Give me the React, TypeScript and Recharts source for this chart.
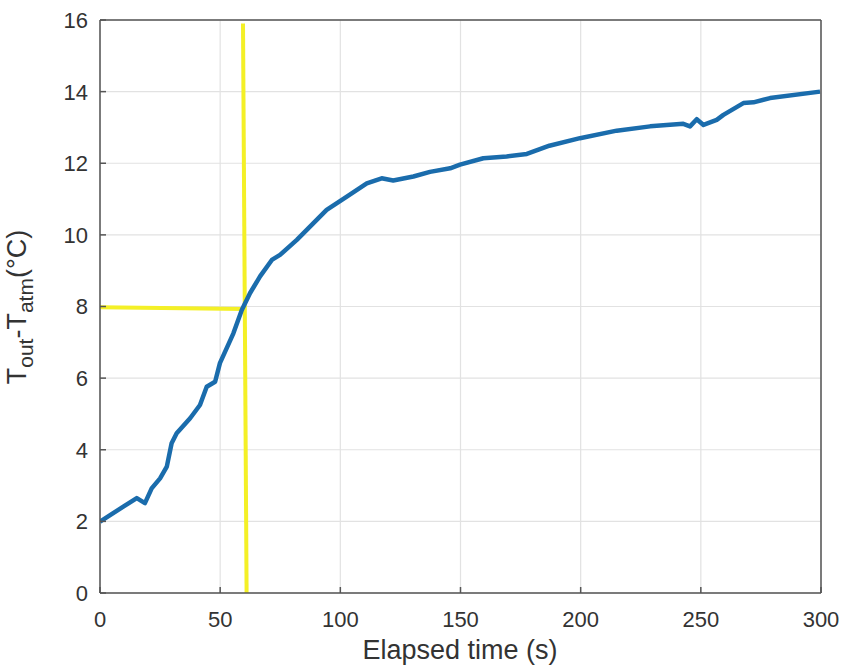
import React from "react"
import { LineChart, Line, XAxis, YAxis, CartesianGrid } from "recharts"

// elapsed time (s) and temperature rise (°C)
const elapsed = [
  0, 5.5, 9.7, 15.3, 18.7, 21.5, 25, 27.8, 29.8, 31.9, 37.5, 41.6, 44.4, 47.9, 49.9, 55.5, 59, 62.4, 66.6,
  71.5, 74.9, 81.9, 94.3, 102.7, 111, 117.2, 122, 130.4, 137.3, 145.7, 149.8, 159.5, 169.2, 177.6, 187,
  199.7, 215, 228.9, 242.7, 245.5, 248.3, 251.1, 256.6, 259.4, 267.7, 271.9, 278.8, 299.6,
]
const deltaT = [
  1.99, 2.23, 2.41, 2.65, 2.51, 2.92, 3.2, 3.53, 4.18, 4.46, 4.88, 5.25, 5.76, 5.9, 6.42, 7.25, 7.9, 8.37, 8.84,
  9.3, 9.44, 9.86, 10.7, 11.07, 11.44, 11.58, 11.52, 11.63, 11.76, 11.86, 11.96, 12.14, 12.19, 12.26, 12.49,
  12.7, 12.91, 13.03, 13.1, 13.03, 13.23, 13.07, 13.21, 13.35, 13.68, 13.7, 13.82, 14.0,
]

// yellow guide lines at the 8 °C crossing
const guideVt = [59.5, 61]
const guideVv = [15.9, 0]
const guideHt = [0, 60]
const guideHv = [7.98, 7.93]

const xTicks = [0, 50, 100, 150, 200, 250, 300]
const yTicks = [0, 2, 4, 6, 8, 10, 12, 14, 16]

const W = 842
const H = 671
const axisColor = "#555"
const textColor = "#333"
const font = "'Liberation Sans', Arial, sans-serif"

const series = elapsed.map((t, i) => ({ t, v: deltaT[i] }))
const guideV = guideVt.map((t, i) => ({ t, v: guideVv[i] }))
const guideH = guideHt.map((t, i) => ({ t, v: guideHv[i] }))

const BottomTick = ({ x, y, payload }: any) => (
  <g>
    <line x1={x} x2={x} y1={y} y2={y - 6} stroke={axisColor} strokeWidth={1.5} />
    <text x={x} y={y + 34} textAnchor="middle" fill={textColor} fontSize={22} fontFamily={font}>
      {payload.value}
    </text>
  </g>
)

const TopTick = ({ x, y }: any) => <line x1={x} x2={x} y1={y} y2={y + 6} stroke={axisColor} strokeWidth={1.5} />

const LeftTick = ({ x, y, payload }: any) => (
  <g>
    <line x1={x} x2={x + 6} y1={y} y2={y} stroke={axisColor} strokeWidth={1.5} />
    <text x={x - 12} y={y} dy="0.36em" textAnchor="end" fill={textColor} fontSize={22} fontFamily={font}>
      {payload.value}
    </text>
  </g>
)

const RightTick = ({ x, y }: any) => <line x1={x} x2={x - 6} y1={y} y2={y} stroke={axisColor} strokeWidth={1.5} />

export default function App() {
  return (
    <div style={{ position: "absolute", left: 0, top: 0, width: W, height: H, background: "#fff" }}>
      <LineChart width={W} height={H} margin={{ top: 0, right: 0, left: 0, bottom: 0 }}>
        <CartesianGrid stroke="#e2e2e2" strokeWidth={1.2} />
        <XAxis
          dataKey="t"
          type="number"
          domain={[0, 300]}
          ticks={xTicks}
          interval={0}
          height={78}
          tickSize={0}
          tickMargin={0}
          tick={<BottomTick />}
          axisLine={{ stroke: axisColor, strokeWidth: 1.5 }}
          allowDataOverflow
        />
        <XAxis
          xAxisId="top"
          orientation="top"
          type="number"
          domain={[0, 300]}
          ticks={xTicks}
          interval={0}
          height={20}
          tickSize={0}
          tickMargin={0}
          tick={<TopTick />}
          axisLine={{ stroke: axisColor, strokeWidth: 1.5 }}
        />
        <YAxis
          type="number"
          domain={[0, 16]}
          ticks={yTicks}
          interval={0}
          width={100}
          tickSize={0}
          tickMargin={0}
          tick={<LeftTick />}
          axisLine={{ stroke: axisColor, strokeWidth: 1.5 }}
          allowDataOverflow
        />
        <YAxis
          yAxisId="right"
          orientation="right"
          type="number"
          domain={[0, 16]}
          ticks={yTicks}
          interval={0}
          width={21}
          tickSize={0}
          tickMargin={0}
          tick={<RightTick />}
          axisLine={{ stroke: axisColor, strokeWidth: 1.5 }}
        />
        <Line data={guideV} dataKey="v" stroke="#f4f026" strokeWidth={4} dot={false} isAnimationActive={false} />
        <Line data={guideH} dataKey="v" stroke="#f4f026" strokeWidth={4} dot={false} isAnimationActive={false} />
        <Line
          data={series}
          dataKey="v"
          type="linear"
          stroke="#1a6cac"
          strokeWidth={4.5}
          strokeLinejoin="round"
          dot={false}
          isAnimationActive={false}
        />
      </LineChart>
      <svg width={W} height={H} style={{ position: "absolute", left: 0, top: 0, pointerEvents: "none" }}>
        <text x={460} y={659} textAnchor="middle" fill={textColor} fontSize={27} fontFamily={font}>
          Elapsed time (s)
        </text>
        <text
          x={26}
          y={307}
          transform="rotate(-90, 26, 307)"
          textAnchor="middle"
          fill={textColor}
          fontSize={27}
          fontFamily={font}
        >
          T<tspan dy={7} fontSize={21}>out</tspan>
          <tspan dy={-7}>-T</tspan>
          <tspan dy={7} fontSize={21}>atm</tspan>
          <tspan dy={-7}>(°C)</tspan>
        </text>
      </svg>
    </div>
  )
}
